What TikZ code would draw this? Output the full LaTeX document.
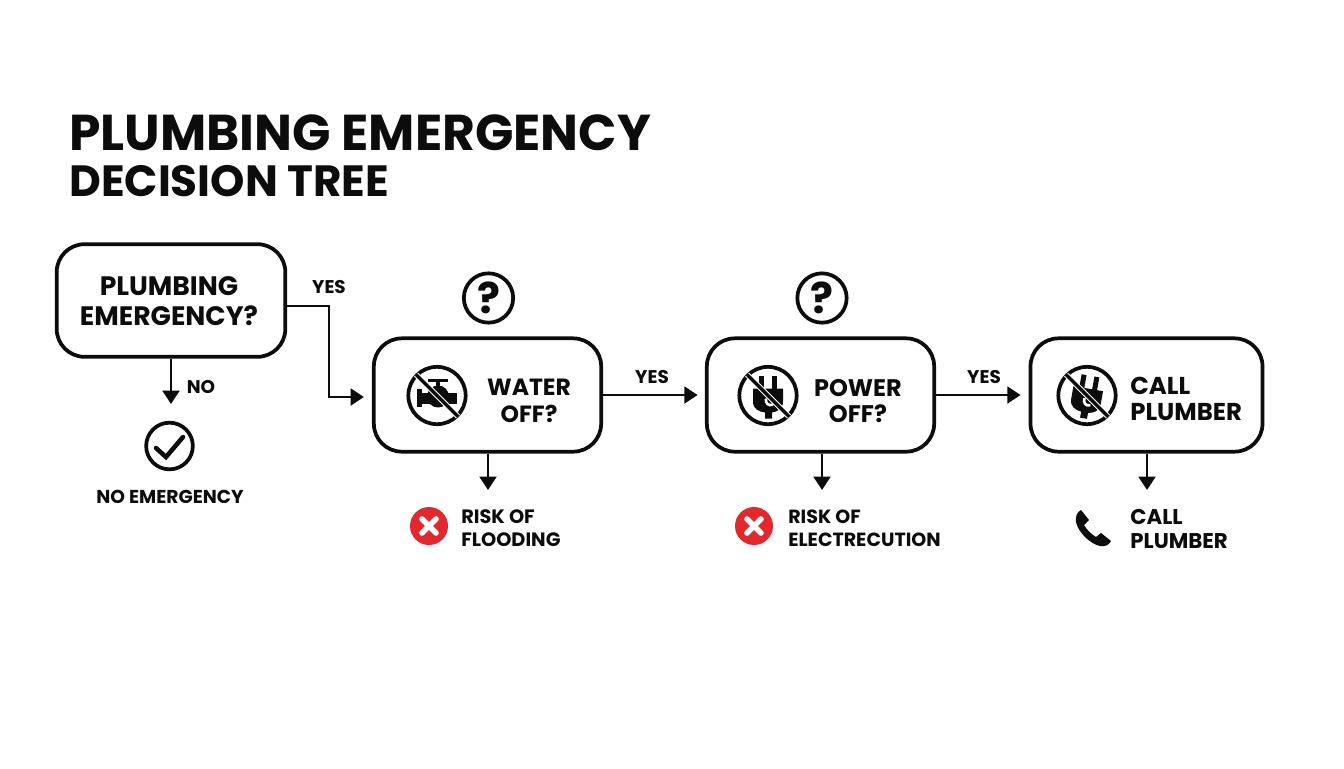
\documentclass[tikz,border=0pt]{standalone}
\usepackage{fontspec}
\setmainfont{Poppins}
\usetikzlibrary{arrows.meta}
\definecolor{ink}{HTML}{0C0C0C}
\definecolor{alarm}{HTML}{E0282E}
\tikzset{
  x=0.75pt,y=-0.75pt,
  flowbox/.style={draw=ink,line width=2.8pt,rounded corners=21pt,inner sep=0pt,fill=white},
  ring/.style={draw=ink,line width=2.8pt,circle,inner sep=0pt,fill=white},
  conn/.style={draw=ink,line width=2.2pt,-{Triangle[length=10pt,width=12.5pt]}},
  lab/.style={font=\bfseries,text=ink,align=center,inner sep=0pt},
  lableft/.style={font=\bfseries,text=ink,align=left,inner sep=0pt},
}
\newcommand{\flatbar}[2]{\draw[white,line width=4pt] (#1-21,#2-21) -- (#1+21,#2+21);\draw[ink,line width=2.6pt] (#1-21,#2-21) -- (#1+21,#2+21);}
\newcommand{\faucetshape}[2]{%
  \fill[ink] (#1-20,#2-7) rectangle (#1-15,#2+11);
  \fill[ink] (#1-20,#2-3) rectangle (#1+20,#2+8);
  \fill[ink] (#1+1,#2+1) circle (11);
  \fill[ink] (#1-1,#2-17) rectangle (#1+3,#2-5);
  \fill[ink] (#1-9,#2-17) rectangle (#1+11,#2-14);
}
\newcommand{\plugshape}[3]{%
  \begin{scope}[shift={(#1,#2)},rotate=#3]
  \fill[ink] (-9,-20) rectangle (-4,-6);
  \fill[ink] (4,-20) rectangle (9,-6);
  \fill[ink] (-15,-7) -- (15,-7) -- (15,6) .. controls (15,14) and (9,16) .. (4,17) -- (4,23) -- (-3,23) -- (-3,17) .. controls (-9,16) and (-15,14) .. (-15,6) -- cycle;
  \draw[white,line width=2pt] (-2,3) .. controls (-3,8) and (1,11) .. (5,9);
  \end{scope}
}
\newcommand{\crossmark}[2]{%
  \draw[white,line width=4.2pt,line cap=round] (#1-7,#2-7) -- (#1+7,#2+7);
  \draw[white,line width=4.2pt,line cap=round] (#1-7,#2+7) -- (#1+7,#2-7);
}
\begin{document}
\begin{tikzpicture}
\useasboundingbox (0,0) rectangle (1344,768);
\fill[white] (0,0) rectangle (1344,768);

\node[lableft,anchor=base west,font=\bfseries\fontsize{37.8}{37.8}\selectfont] (title1) at (69,150) {PLUMBING EMERGENCY};
\node[lableft,anchor=base west,font=\bfseries\fontsize{32.8}{32.8}\selectfont] (title2) at (69,196) {DECISION TREE};

\node[flowbox,minimum width=171.5pt,minimum height=84.5pt] (b1) at (171,300.5) {};
\node[flowbox,minimum width=170.5pt,minimum height=85pt] (b2) at (487.5,395) {};
\node[flowbox,minimum width=170.5pt,minimum height=85pt] (b3) at (820.5,395) {};
\node[flowbox,minimum width=174pt,minimum height=85pt] (b4) at (1146.5,395) {};

\node[lab,font=\bfseries\fontsize{20}{22.5}\selectfont] (t1) at (169,301) {PLUMBING\\EMERGENCY?};
\node[lab,font=\bfseries\fontsize{17.6}{20}\selectfont] (t2) at (529,401) {WATER\\OFF?};
\node[lab,font=\bfseries\fontsize{18}{20}\selectfont] (t3) at (858,401) {POWER\\OFF?};
\node[lableft,font=\bfseries\fontsize{18.3}{20}\selectfont,anchor=west] (t4) at (1130,399) {CALL\\PLUMBER};

\node[ring,minimum size=37pt] (q1) at (488.5,298) {};
\node[ring,minimum size=37pt] (q2) at (822,298) {};
\node[lab,font=\bfseries\fontsize{32}{32}\selectfont] (qm1) at (488.5,298) {?};
\node[lab,font=\bfseries\fontsize{32}{32}\selectfont] (qm2) at (822,298) {?};

\node[ring,minimum size=43pt] (i2) at (437,395.5) {};
\faucetshape{437}{395.5}
\flatbar{437}{395.5}
\node[ring,minimum size=43pt] (i3) at (768,395.5) {};
\plugshape{768}{395.5}{0}
\flatbar{768}{395.5}
\node[ring,minimum size=43pt] (i4) at (1087,395.5) {};
\plugshape{1087}{395.5}{-10}
\flatbar{1087}{395.5}

\node[ring,minimum size=35pt] (ok) at (169.5,446) {};
\draw[ink,line width=3.4pt,line cap=round] (156,448) -- (166,457) -- (183,437);

\node[circle,fill=alarm,minimum size=28.5pt,inner sep=0pt] (x1) at (429,526) {};
\crossmark{429}{526}
\node[circle,fill=alarm,minimum size=28.5pt,inner sep=0pt] (x2) at (754,526) {};
\crossmark{754}{526}

\node[inner sep=0pt,minimum size=27pt] (ph) at (1092,527) {};
\fill[ink] (1081,510) .. controls (1077,512) and (1075,517) .. (1076,522) .. controls (1078,532) and (1090,544) .. (1100,546) .. controls (1105,547) and (1109,545) .. (1111,541) -- (1101,533) -- (1096,537) .. controls (1091,534) and (1087,530) .. (1084,525) -- (1089,520) -- cycle;

\coordinate (e1) at (171,404);
\coordinate (e2) at (488,490);
\coordinate (e3) at (822,490);
\coordinate (e4) at (1147,490);
\coordinate (m1) at (329,306);
\coordinate (m2) at (329,397);
\draw[conn] (b1.south -| e1) -- (e1);
\draw[conn] (b2.south -| e2) -- (e2);
\draw[conn] (b3.south -| e3) -- (e3);
\draw[conn] (b4.south -| e4) -- (e4);
\draw[conn,shorten >=6pt] (b1.east |- m1) -- (m1) -- (m2) -- (b2.west |- m2);
\draw[conn,shorten >=5.5pt] (b2.east) -- (b3.west);
\draw[conn,shorten >=6pt] (b3.east) -- (b4.west);

\node[lab,font=\bfseries\fontsize{13.8}{13.8}\selectfont] (y1) at (329,287) {YES};
\node[lab,font=\bfseries\fontsize{13.8}{13.8}\selectfont] (y2) at (652,377) {YES};
\node[lab,font=\bfseries\fontsize{13.8}{13.8}\selectfont] (y3) at (984,377) {YES};
\node[lab,font=\bfseries\fontsize{13.8}{13.8}\selectfont] (n1) at (201,387) {NO};

\node[lab,font=\bfseries\fontsize{14}{14}\selectfont] (r1) at (170,497) {NO EMERGENCY};
\node[lableft,anchor=west,font=\bfseries\fontsize{14.5}{17.5}\selectfont] (r2) at (461,528) {RISK OF\\FLOODING};
\node[lableft,anchor=west,font=\bfseries\fontsize{14.3}{17.5}\selectfont] (r3) at (788,528) {RISK OF\\ELECTRECUTION};
\node[lableft,anchor=west,font=\bfseries\fontsize{16}{18.7}\selectfont] (r4) at (1130,529) {CALL\\PLUMBER};
\end{tikzpicture}
\end{document}
